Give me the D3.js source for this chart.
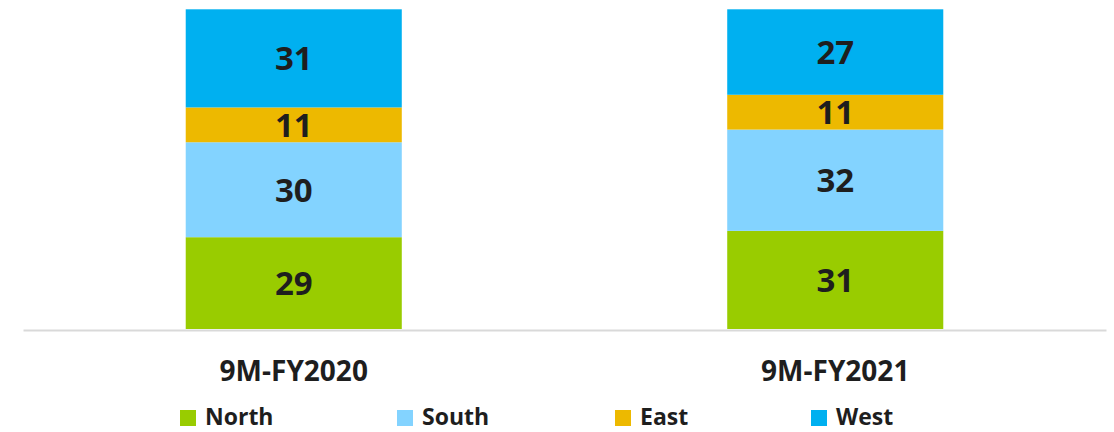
<!DOCTYPE html>
<html>
<head>
<meta charset="utf-8">
<script src="https://cdn.jsdelivr.net/npm/d3@7"></script>
<style>
  body { margin: 0; background: #fff; }
  svg text { font-family: "Open Sans", "Noto Sans", sans-serif; font-weight: 700; fill: #1e1e1e; }
</style>
</head>
<body>
<div id="chart"></div>
<script>
// data
var categories = ["9M-FY2020", "9M-FY2021"];
var seriesNames = ["North", "South", "East", "West"];
var north = [29, 31];
var south = [30, 32];
var east = [11, 11];
var west = [31, 27];
var seriesColors = ["#99CC00", "#83D3FF", "#EDB900", "#00B0F0"];

var width = 1114, height = 432;
var plot = { left: 23, right: 1106, top: 9.3, bottom: 329 };

var rows = categories.map(function (c, i) {
  return { cat: c, North: north[i], South: south[i], East: east[i], West: west[i] };
});

var stack = d3.stack().keys(seriesNames)(rows);
var maxTotal = d3.max(rows, function (d) { return d.North + d.South + d.East + d.West; });

var x = d3.scaleBand()
  .domain(categories)
  .range([plot.left, plot.right])
  .paddingInner(0.601)
  .paddingOuter(0.3005);

var y = d3.scaleLinear()
  .domain([0, maxTotal])
  .range([plot.bottom, plot.top]);

var color = d3.scaleOrdinal().domain(seriesNames).range(seriesColors);

var svg = d3.select("#chart").append("svg")
  .attr("width", width)
  .attr("height", height);

var layers = svg.selectAll("g.layer")
  .data(stack)
  .enter().append("g")
    .attr("class", "layer")
    .style("fill", function (d) { return color(d.key); });

layers.selectAll("rect")
  .data(function (d) { return d; })
  .enter().append("rect")
    .attr("x", function (d) { return x(d.data.cat); })
    .attr("y", function (d) { return y(d[1]); })
    .attr("width", x.bandwidth())
    .attr("height", function (d) { return y(d[0]) - y(d[1]); });

layers.selectAll("text")
  .data(function (d) { return d; })
  .enter().append("text")
    .attr("x", function (d) { return x(d.data.cat) + x.bandwidth() / 2; })
    .attr("y", function (d) { return (y(d[0]) + y(d[1])) / 2; })
    .attr("text-anchor", "middle")
    .attr("dy", "0.36em")
    .style("font-size", "33px")
    .text(function (d) { return d[1] - d[0]; });

// category axis
var xAxis = d3.axisBottom(x).tickSize(0).tickPadding(0);
var ax = svg.append("g")
  .attr("transform", "translate(0," + (plot.bottom + 1) + ")")
  .call(xAxis);
ax.select(".domain").attr("stroke", "#d9d9d9").attr("stroke-width", 2);
ax.selectAll("text")
  .attr("dy", 0)
  .attr("y", 51)
  .style("font-size", "28px")
  .style("font-family", null)
  .attr("fill", "#1e1e1e");

// legend
var legendX = [180, 397, 615, 811];
var legend = svg.selectAll("g.legend")
  .data(seriesNames)
  .enter().append("g")
    .attr("class", "legend")
    .attr("transform", function (d, i) { return "translate(" + legendX[i] + ",410)"; });

legend.append("rect")
  .attr("width", 16)
  .attr("height", 16)
  .style("fill", function (d) { return color(d); });

legend.append("text")
  .attr("x", 25)
  .attr("y", 15)
  .style("font-size", "23px")
  .text(function (d) { return d; });
</script>
</body>
</html>
